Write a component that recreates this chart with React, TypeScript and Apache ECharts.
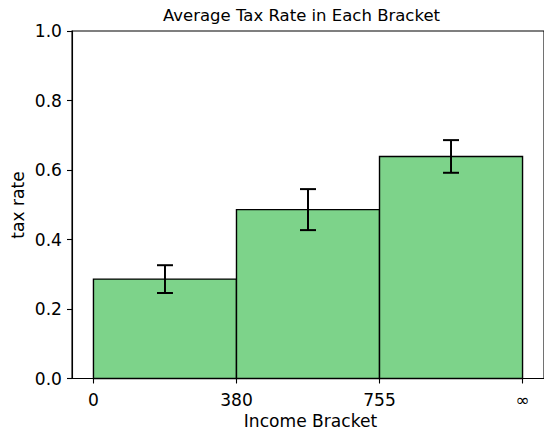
import React, { useEffect, useRef } from "react";
import * as echarts from "echarts";

const bracketLabels = ["0", "380", "755", "∞"];
const bracketTicks = [0, 1, 2, 3];
const taxRate = [0.286, 0.486, 0.639];
const taxErr = [0.04, 0.059, 0.047];
const yTicks = [0, 0.2, 0.4, 0.6, 0.8, 1.0];

const FONT = "DejaVu Sans";
const FS = 17.1;

export default function App() {
  const ref = useRef<HTMLDivElement>(null);
  useEffect(() => {
    if (!ref.current) return;
    const chart = echarts.init(ref.current, null, { renderer: "svg" });
    const barData = taxRate.map((v, i) => [bracketTicks[i], bracketTicks[i + 1], v]);
    const errData = taxRate.map((v, i) => [
      (bracketTicks[i] + bracketTicks[i + 1]) / 2,
      v - taxErr[i],
      v + taxErr[i],
    ]);
    chart.setOption({
      animation: false,
      backgroundColor: "#ffffff",
      grid: {
        left: 72,
        top: 31,
        width: 477,
        height: 347.5,
        show: true,
        borderColor: "#000",
        borderWidth: 1.1,
        backgroundColor: "transparent",
        containLabel: false,
      },
      xAxis: {
        type: "value",
        min: -0.15,
        max: 3.15,
        splitLine: { show: false },
        axisLine: { show: true, onZero: false, lineStyle: { color: "#000", width: 1.1 } },
        axisTick: {
          show: true,
          customValues: bracketTicks,
          length: 5,
          lineStyle: { color: "#000", width: 1.1 },
        },
        axisLabel: {
          customValues: bracketTicks,
          formatter: (v: number) => bracketLabels[Math.round(v)],
          fontFamily: FONT,
          fontSize: FS,
          color: "#000",
          margin: 12.5,
        },
      },
      yAxis: {
        type: "value",
        min: 0,
        max: 1,
        interval: 0.2,
        splitLine: { show: false },
        axisLine: { show: true, onZero: false, lineStyle: { color: "#000", width: 1.1 } },
        axisTick: { show: true, length: 5, lineStyle: { color: "#000", width: 1.1 } },
        axisLabel: {
          customValues: yTicks,
          formatter: (v: number) => v.toFixed(1),
          fontFamily: FONT,
          fontSize: FS,
          color: "#000",
          margin: 10,
        },
      },
      graphic: [
        {
          type: "text",
          x: 301.5,
          y: 15.4,
          style: {
            text: "Average Tax Rate in Each Bracket",
            fontFamily: FONT,
            fontSize: 16.5,
            fill: "#000",
            textAlign: "center",
            textVerticalAlign: "middle",
          },
        },
        {
          type: "text",
          x: 310.5,
          y: 420.8,
          style: {
            text: "Income Bracket",
            fontFamily: FONT,
            fontSize: FS,
            fill: "#000",
            textAlign: "center",
            textVerticalAlign: "middle",
          },
        },
        {
          type: "text",
          x: 17.5,
          y: 205,
          rotation: Math.PI / 2,
          style: {
            text: "tax rate",
            fontFamily: FONT,
            fontSize: FS,
            fill: "#000",
            textAlign: "center",
            textVerticalAlign: "middle",
          },
        },
      ],
      series: [
        {
          type: "custom",
          data: barData,
          z: 2,
          renderItem: (params: any, api: any) => {
            const p0 = api.coord([api.value(0), api.value(2)]);
            const p1 = api.coord([api.value(1), 0]);
            return {
              type: "rect",
              shape: { x: p0[0], y: p0[1], width: p1[0] - p0[0], height: p1[1] - p0[1] },
              style: { fill: "#7dd38a", stroke: "#000", lineWidth: 1.4 },
            };
          },
        },
        {
          type: "custom",
          data: errData,
          z: 3,
          renderItem: (params: any, api: any) => {
            const lo = api.coord([api.value(0), api.value(1)]);
            const hi = api.coord([api.value(0), api.value(2)]);
            const cap = 8;
            const st = { stroke: "#000", lineWidth: 2 };
            return {
              type: "group",
              children: [
                { type: "line", shape: { x1: lo[0], y1: lo[1], x2: hi[0], y2: hi[1] }, style: st },
                { type: "line", shape: { x1: lo[0] - cap, y1: lo[1], x2: lo[0] + cap, y2: lo[1] }, style: st },
                { type: "line", shape: { x1: hi[0] - cap, y1: hi[1], x2: hi[0] + cap, y2: hi[1] }, style: st },
              ],
            };
          },
        },
      ],
    });
    return () => chart.dispose();
  }, []);
  return (
    <div
      ref={ref}
      style={{ position: "absolute", left: 0, top: 0, width: 544, height: 431 }}
    />
  );
}
